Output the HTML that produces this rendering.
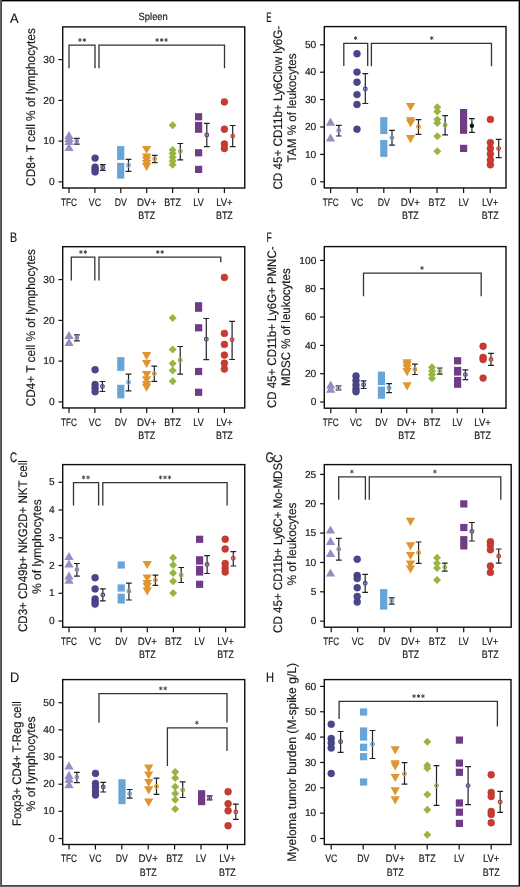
<!DOCTYPE html>
<html><head><meta charset="utf-8"><title>Figure</title>
<style>
html,body{margin:0;padding:0;background:#fff;}
body{width:520px;height:887px;overflow:hidden;}
svg{display:block;will-change:transform;}
text{font-family:"Liberation Sans",sans-serif;text-rendering:geometricPrecision;stroke:#1a1a1a;stroke-width:0.18px;}
</style></head>
<body>
<svg width="520" height="887" viewBox="0 0 520 887" font-family="Liberation Sans, sans-serif">
<rect x="0" y="0" width="520" height="887" fill="#ffffff"/>
<path d="M58.5 59.6H62.7" stroke="#111" stroke-width="1.2"/>
<text x="54.7" y="62.75" font-size="10.2" text-anchor="end" fill="#1a1a1a" >30</text>
<path d="M58.5 100.4H62.7" stroke="#111" stroke-width="1.2"/>
<text x="54.7" y="103.55" font-size="10.2" text-anchor="end" fill="#1a1a1a" >20</text>
<path d="M58.5 141.1H62.7" stroke="#111" stroke-width="1.2"/>
<text x="54.7" y="144.25" font-size="10.2" text-anchor="end" fill="#1a1a1a" >10</text>
<path d="M58.5 181.9H62.7" stroke="#111" stroke-width="1.2"/>
<text x="54.7" y="185.05" font-size="10.2" text-anchor="end" fill="#1a1a1a" >0</text>
<path d="M69 188V193" stroke="#111" stroke-width="1.2"/>
<text x="69" y="205.6" font-size="10.8" text-anchor="middle" fill="#1a1a1a" textLength="15.9" lengthAdjust="spacingAndGlyphs">TFC</text>
<path d="M94.9 188V193" stroke="#111" stroke-width="1.2"/>
<text x="94.9" y="205.6" font-size="10.8" text-anchor="middle" fill="#1a1a1a" textLength="12.1" lengthAdjust="spacingAndGlyphs">VC</text>
<path d="M120.8 188V193" stroke="#111" stroke-width="1.2"/>
<text x="120.8" y="205.6" font-size="10.8" text-anchor="middle" fill="#1a1a1a" textLength="12.1" lengthAdjust="spacingAndGlyphs">DV</text>
<path d="M146.7 188V193" stroke="#111" stroke-width="1.2"/>
<text x="146.7" y="205.6" font-size="10.8" text-anchor="middle" fill="#1a1a1a" textLength="19.3" lengthAdjust="spacingAndGlyphs">DV+</text>
<text x="146.7" y="219" font-size="10.8" text-anchor="middle" fill="#1a1a1a" textLength="16.8" lengthAdjust="spacingAndGlyphs">BTZ</text>
<path d="M172.6 188V193" stroke="#111" stroke-width="1.2"/>
<text x="172.6" y="205.6" font-size="10.8" text-anchor="middle" fill="#1a1a1a" textLength="16.8" lengthAdjust="spacingAndGlyphs">BTZ</text>
<path d="M198.5 188V193" stroke="#111" stroke-width="1.2"/>
<text x="198.5" y="205.6" font-size="10.8" text-anchor="middle" fill="#1a1a1a" textLength="10.3" lengthAdjust="spacingAndGlyphs">LV</text>
<path d="M224.4 188V193" stroke="#111" stroke-width="1.2"/>
<text x="224.4" y="205.6" font-size="10.8" text-anchor="middle" fill="#1a1a1a" textLength="16.5" lengthAdjust="spacingAndGlyphs">LV+</text>
<text x="224.4" y="219" font-size="10.8" text-anchor="middle" fill="#1a1a1a" textLength="16.8" lengthAdjust="spacingAndGlyphs">BTZ</text>
<path d="M69 68.2V45.2H95V68.2" stroke="#333" stroke-width="1.3" fill="none"/>
<path d="M79.98 38.5L79.98 41.5M78.68 39.25L81.27 40.75M78.68 40.75L81.27 39.25" stroke="#3d3d3d" stroke-width="0.9" stroke-linecap="round"/>
<path d="M84.42 38.5L84.42 41.5M83.13 39.25L85.72 40.75M83.13 40.75L85.72 39.25" stroke="#3d3d3d" stroke-width="0.9" stroke-linecap="round"/>
<path d="M99 68.2V45.2H224.5V68.2" stroke="#333" stroke-width="1.3" fill="none"/>
<path d="M157.15 38.5L157.15 41.5M155.85 39.25L158.45 40.75M155.85 40.75L158.45 39.25" stroke="#3d3d3d" stroke-width="0.9" stroke-linecap="round"/>
<path d="M161.6 38.5L161.6 41.5M160.3 39.25L162.9 40.75M160.3 40.75L162.9 39.25" stroke="#3d3d3d" stroke-width="0.9" stroke-linecap="round"/>
<path d="M166.05 38.5L166.05 41.5M164.75 39.25L167.35 40.75M164.75 40.75L167.35 39.25" stroke="#3d3d3d" stroke-width="0.9" stroke-linecap="round"/>
<path d="M69 143L73.65 151.1L64.35 151.1Z" fill="#968dc2"/>
<path d="M69 136.8L73.65 144.9L64.35 144.9Z" fill="#968dc2"/>
<path d="M69 133.9L73.65 142L64.35 142Z" fill="#968dc2"/>
<path d="M69 131L73.65 139.1L64.35 139.1Z" fill="#968dc2"/>
<circle cx="95.1" cy="158.1" r="3.45" fill="#4a468a" stroke="#3b3878" stroke-width="0.5"/>
<circle cx="95.1" cy="167.1" r="3.45" fill="#4a468a" stroke="#3b3878" stroke-width="0.5"/>
<circle cx="95.1" cy="169.5" r="3.45" fill="#4a468a" stroke="#3b3878" stroke-width="0.5"/>
<circle cx="95.1" cy="171.9" r="3.45" fill="#4a468a" stroke="#3b3878" stroke-width="0.5"/>
<rect x="117.1" y="146.1" width="7.2" height="13.8" fill="#69a4d7"/>
<rect x="117.1" y="162.8" width="7.2" height="15.9" fill="#69a4d7"/>
<path d="M141.95 145.9L151.25 145.9L146.6 154Z" fill="#e0962f"/>
<path d="M141.95 153.4L151.25 153.4L146.6 161.5Z" fill="#e0962f"/>
<path d="M141.95 156.4L151.25 156.4L146.6 164.5Z" fill="#e0962f"/>
<path d="M141.95 159.9L151.25 159.9L146.6 168Z" fill="#e0962f"/>
<path d="M141.95 162.9L151.25 162.9L146.6 171Z" fill="#e0962f"/>
<path d="M172.6 121.2L176.6 125.2L172.6 129.2L168.6 125.2Z" fill="#98b540"/>
<path d="M172.6 145.9L176.6 149.9L172.6 153.9L168.6 149.9Z" fill="#98b540"/>
<path d="M172.6 149.6L176.6 153.6L172.6 157.6L168.6 153.6Z" fill="#98b540"/>
<path d="M172.6 153.3L176.6 157.3L172.6 161.3L168.6 157.3Z" fill="#98b540"/>
<path d="M172.6 157L176.6 161L172.6 165L168.6 161Z" fill="#98b540"/>
<path d="M172.6 160.8L176.6 164.8L172.6 168.8L168.6 164.8Z" fill="#98b540"/>
<rect x="195" y="113.2" width="7.2" height="7.2" fill="#6f3c85"/>
<rect x="195" y="121.9" width="7.2" height="10.9" fill="#6f3c85"/>
<rect x="195" y="149.2" width="7.2" height="7.2" fill="#6f3c85"/>
<rect x="195" y="165.8" width="7.2" height="7.2" fill="#6f3c85"/>
<circle cx="224.4" cy="101.9" r="3.45" fill="#c73b30" stroke="#b53227" stroke-width="0.5"/>
<circle cx="224.4" cy="129.2" r="3.45" fill="#c73b30" stroke="#b53227" stroke-width="0.5"/>
<circle cx="224.4" cy="144" r="3.45" fill="#c73b30" stroke="#b53227" stroke-width="0.5"/>
<circle cx="224.4" cy="148.5" r="3.45" fill="#c73b30" stroke="#b53227" stroke-width="0.5"/>
<path d="M76.8 138.4V144.1M73.9 138.4H79.7M73.9 144.1H79.7" stroke="#222" stroke-width="1.2" fill="none"/>
<circle cx="76.8" cy="141.2" r="1.85" fill="#d8d8d8" stroke="#968dc2" stroke-width="1.2"/>
<path d="M76.8 139.9V142.5" stroke="#333" stroke-width="1"/>
<path d="M102.8 164.7V170.4M99.9 164.7H105.7M99.9 170.4H105.7" stroke="#222" stroke-width="1.2" fill="none"/>
<circle cx="102.8" cy="167.5" r="1.85" fill="#d8d8d8" stroke="#4a468a" stroke-width="1.2"/>
<path d="M102.8 166.2V168.8" stroke="#333" stroke-width="1"/>
<path d="M128.5 159.3V171.4M125.6 159.3H131.4M125.6 171.4H131.4" stroke="#222" stroke-width="1.2" fill="none"/>
<circle cx="128.5" cy="165.2" r="1.85" fill="#d8d8d8" stroke="#69a4d7" stroke-width="1.2"/>
<path d="M128.5 163.9V166.5" stroke="#333" stroke-width="1"/>
<path d="M154.7 155.4V162.7M151.8 155.4H157.6M151.8 162.7H157.6" stroke="#222" stroke-width="1.2" fill="none"/>
<circle cx="154.7" cy="158.9" r="1.85" fill="#d8d8d8" stroke="#e0962f" stroke-width="1.2"/>
<path d="M154.7 157.6V160.2" stroke="#333" stroke-width="1"/>
<path d="M180.3 143.5V159.9M177.4 143.5H183.2M177.4 159.9H183.2" stroke="#222" stroke-width="1.2" fill="none"/>
<circle cx="180.3" cy="151.3" r="1.85" fill="#d8d8d8" stroke="#98b540" stroke-width="1.2"/>
<path d="M180.3 150V152.6" stroke="#333" stroke-width="1"/>
<path d="M206.8 123.4V146.7M203.9 123.4H209.7M203.9 146.7H209.7" stroke="#222" stroke-width="1.2" fill="none"/>
<circle cx="206.8" cy="135" r="1.85" fill="#d8d8d8" stroke="#6f3c85" stroke-width="1.2"/>
<path d="M206.8 133.7V136.3" stroke="#333" stroke-width="1"/>
<path d="M232.7 125.5V146.7M229.8 125.5H235.6M229.8 146.7H235.6" stroke="#222" stroke-width="1.2" fill="none"/>
<circle cx="232.7" cy="136.1" r="1.85" fill="#d8d8d8" stroke="#c73b30" stroke-width="1.2"/>
<path d="M232.7 134.8V137.4" stroke="#333" stroke-width="1"/>
<rect x="62.7" y="26.9" width="182.05" height="161.1" fill="none" stroke="#0d0d0d" stroke-width="1.4"/>
<text transform="translate(34.8 107.05) rotate(-90)" x="0" y="0" font-size="12.6" text-anchor="middle" fill="#1a1a1a" textLength="157.7" lengthAdjust="spacingAndGlyphs">CD8+ T cell % of lymphocytes</text>
<text x="10" y="22.6" font-size="13.8" text-anchor="start" fill="#1a1a1a" textLength="8.6" lengthAdjust="spacingAndGlyphs">A</text>
<path d="M58.5 279.6H62.7" stroke="#111" stroke-width="1.2"/>
<text x="54.7" y="282.75" font-size="10.2" text-anchor="end" fill="#1a1a1a" >30</text>
<path d="M58.5 320.4H62.7" stroke="#111" stroke-width="1.2"/>
<text x="54.7" y="323.55" font-size="10.2" text-anchor="end" fill="#1a1a1a" >20</text>
<path d="M58.5 361.1H62.7" stroke="#111" stroke-width="1.2"/>
<text x="54.7" y="364.25" font-size="10.2" text-anchor="end" fill="#1a1a1a" >10</text>
<path d="M58.5 401.9H62.7" stroke="#111" stroke-width="1.2"/>
<text x="54.7" y="405.05" font-size="10.2" text-anchor="end" fill="#1a1a1a" >0</text>
<path d="M69 407.95V412.95" stroke="#111" stroke-width="1.2"/>
<text x="69" y="425.55" font-size="10.8" text-anchor="middle" fill="#1a1a1a" textLength="15.9" lengthAdjust="spacingAndGlyphs">TFC</text>
<path d="M94.9 407.95V412.95" stroke="#111" stroke-width="1.2"/>
<text x="94.9" y="425.55" font-size="10.8" text-anchor="middle" fill="#1a1a1a" textLength="12.1" lengthAdjust="spacingAndGlyphs">VC</text>
<path d="M120.8 407.95V412.95" stroke="#111" stroke-width="1.2"/>
<text x="120.8" y="425.55" font-size="10.8" text-anchor="middle" fill="#1a1a1a" textLength="12.1" lengthAdjust="spacingAndGlyphs">DV</text>
<path d="M146.7 407.95V412.95" stroke="#111" stroke-width="1.2"/>
<text x="146.7" y="425.55" font-size="10.8" text-anchor="middle" fill="#1a1a1a" textLength="19.3" lengthAdjust="spacingAndGlyphs">DV+</text>
<text x="146.7" y="438.95" font-size="10.8" text-anchor="middle" fill="#1a1a1a" textLength="16.8" lengthAdjust="spacingAndGlyphs">BTZ</text>
<path d="M172.6 407.95V412.95" stroke="#111" stroke-width="1.2"/>
<text x="172.6" y="425.55" font-size="10.8" text-anchor="middle" fill="#1a1a1a" textLength="16.8" lengthAdjust="spacingAndGlyphs">BTZ</text>
<path d="M198.5 407.95V412.95" stroke="#111" stroke-width="1.2"/>
<text x="198.5" y="425.55" font-size="10.8" text-anchor="middle" fill="#1a1a1a" textLength="10.3" lengthAdjust="spacingAndGlyphs">LV</text>
<path d="M224.4 407.95V412.95" stroke="#111" stroke-width="1.2"/>
<text x="224.4" y="425.55" font-size="10.8" text-anchor="middle" fill="#1a1a1a" textLength="16.5" lengthAdjust="spacingAndGlyphs">LV+</text>
<text x="224.4" y="438.95" font-size="10.8" text-anchor="middle" fill="#1a1a1a" textLength="16.8" lengthAdjust="spacingAndGlyphs">BTZ</text>
<path d="M71.3 280.5V257.2H94.8V280.5" stroke="#333" stroke-width="1.3" fill="none"/>
<path d="M80.88 250.5L80.88 253.5M79.58 251.25L82.17 252.75M79.58 252.75L82.17 251.25" stroke="#3d3d3d" stroke-width="0.9" stroke-linecap="round"/>
<path d="M85.32 250.5L85.32 253.5M84.03 251.25L86.62 252.75M84.03 252.75L86.62 251.25" stroke="#3d3d3d" stroke-width="0.9" stroke-linecap="round"/>
<path d="M99 280.5V257.2H220.8V262.2" stroke="#333" stroke-width="1.3" fill="none"/>
<path d="M157.78 250.5L157.78 253.5M156.48 251.25L159.07 252.75M156.48 252.75L159.07 251.25" stroke="#3d3d3d" stroke-width="0.9" stroke-linecap="round"/>
<path d="M162.22 250.5L162.22 253.5M160.93 251.25L163.52 252.75M160.93 252.75L163.52 251.25" stroke="#3d3d3d" stroke-width="0.9" stroke-linecap="round"/>
<path d="M69 331L73.65 339.1L64.35 339.1Z" fill="#968dc2"/>
<path d="M69 338L73.65 346.1L64.35 346.1Z" fill="#968dc2"/>
<circle cx="95.1" cy="369.7" r="3.45" fill="#4a468a" stroke="#3b3878" stroke-width="0.5"/>
<circle cx="95.1" cy="384.5" r="3.45" fill="#4a468a" stroke="#3b3878" stroke-width="0.5"/>
<circle cx="95.1" cy="388" r="3.45" fill="#4a468a" stroke="#3b3878" stroke-width="0.5"/>
<circle cx="95.1" cy="391.7" r="3.45" fill="#4a468a" stroke="#3b3878" stroke-width="0.5"/>
<rect x="117.2" y="357.1" width="7.2" height="13.8" fill="#69a4d7"/>
<rect x="117.2" y="384.8" width="7.2" height="13.5" fill="#69a4d7"/>
<path d="M141.95 352.1L151.25 352.1L146.6 360.2Z" fill="#e0962f"/>
<path d="M141.95 360L151.25 360L146.6 368.1Z" fill="#e0962f"/>
<path d="M141.95 370.9L151.25 370.9L146.6 379Z" fill="#e0962f"/>
<path d="M141.95 376.3L151.25 376.3L146.6 384.4Z" fill="#e0962f"/>
<path d="M141.95 381.1L151.25 381.1L146.6 389.2Z" fill="#e0962f"/>
<path d="M141.95 383.7L151.25 383.7L146.6 391.8Z" fill="#e0962f"/>
<path d="M172.7 314.1L176.7 318.1L172.7 322.1L168.7 318.1Z" fill="#98b540"/>
<path d="M172.7 345.6L176.7 349.6L172.7 353.6L168.7 349.6Z" fill="#98b540"/>
<path d="M172.7 359.4L176.7 363.4L172.7 367.4L168.7 363.4Z" fill="#98b540"/>
<path d="M172.7 366.4L176.7 370.4L172.7 374.4L168.7 370.4Z" fill="#98b540"/>
<path d="M172.7 377.3L176.7 381.3L172.7 385.3L168.7 381.3Z" fill="#98b540"/>
<rect x="195" y="302.2" width="7.2" height="9.6" fill="#6f3c85"/>
<rect x="195" y="324.2" width="7.2" height="7.2" fill="#6f3c85"/>
<rect x="195" y="367.9" width="7.2" height="7.2" fill="#6f3c85"/>
<rect x="195" y="388.7" width="7.2" height="7.2" fill="#6f3c85"/>
<circle cx="224.4" cy="277.4" r="3.45" fill="#c73b30" stroke="#b53227" stroke-width="0.5"/>
<circle cx="224.4" cy="333.4" r="3.45" fill="#c73b30" stroke="#b53227" stroke-width="0.5"/>
<circle cx="224.4" cy="344.4" r="3.45" fill="#c73b30" stroke="#b53227" stroke-width="0.5"/>
<circle cx="224.4" cy="355.1" r="3.45" fill="#c73b30" stroke="#b53227" stroke-width="0.5"/>
<circle cx="224.4" cy="363.2" r="3.45" fill="#c73b30" stroke="#b53227" stroke-width="0.5"/>
<circle cx="224.4" cy="369" r="3.45" fill="#c73b30" stroke="#b53227" stroke-width="0.5"/>
<path d="M76.9 334.9V340.8M74 334.9H79.8M74 340.8H79.8" stroke="#222" stroke-width="1.2" fill="none"/>
<circle cx="76.9" cy="337.7" r="1.85" fill="#d8d8d8" stroke="#968dc2" stroke-width="1.2"/>
<path d="M76.9 336.4V339" stroke="#333" stroke-width="1"/>
<path d="M102.4 381.5V391.5M99.5 381.5H105.3M99.5 391.5H105.3" stroke="#222" stroke-width="1.2" fill="none"/>
<circle cx="102.4" cy="386.5" r="1.85" fill="#d8d8d8" stroke="#4a468a" stroke-width="1.2"/>
<path d="M102.4 385.2V387.8" stroke="#333" stroke-width="1"/>
<path d="M128.5 374.2V390.8M125.6 374.2H131.4M125.6 390.8H131.4" stroke="#222" stroke-width="1.2" fill="none"/>
<circle cx="128.5" cy="382.3" r="1.85" fill="#d8d8d8" stroke="#69a4d7" stroke-width="1.2"/>
<path d="M128.5 381V383.6" stroke="#333" stroke-width="1"/>
<path d="M154.3 366.1V381.3M151.4 366.1H157.2M151.4 381.3H157.2" stroke="#222" stroke-width="1.2" fill="none"/>
<circle cx="154.3" cy="373.6" r="1.85" fill="#d8d8d8" stroke="#e0962f" stroke-width="1.2"/>
<path d="M154.3 372.3V374.9" stroke="#333" stroke-width="1"/>
<path d="M180.2 346.5V374.2M177.3 346.5H183.1M177.3 374.2H183.1" stroke="#222" stroke-width="1.2" fill="none"/>
<circle cx="180.2" cy="360.3" r="1.85" fill="#d8d8d8" stroke="#98b540" stroke-width="1.2"/>
<path d="M180.2 359V361.6" stroke="#333" stroke-width="1"/>
<path d="M206.3 318.5V359.7M203.4 318.5H209.2M203.4 359.7H209.2" stroke="#222" stroke-width="1.2" fill="none"/>
<circle cx="206.3" cy="339.2" r="1.85" fill="#d8d8d8" stroke="#6f3c85" stroke-width="1.2"/>
<path d="M206.3 337.9V340.5" stroke="#333" stroke-width="1"/>
<path d="M232.1 321.3V359.5M229.2 321.3H235M229.2 359.5H235" stroke="#222" stroke-width="1.2" fill="none"/>
<circle cx="232.1" cy="339.8" r="1.85" fill="#d8d8d8" stroke="#c73b30" stroke-width="1.2"/>
<path d="M232.1 338.5V341.1" stroke="#333" stroke-width="1"/>
<rect x="62.7" y="246.7" width="182.05" height="161.25" fill="none" stroke="#0d0d0d" stroke-width="1.4"/>
<text transform="translate(34.7 327.7) rotate(-90)" x="0" y="0" font-size="12.6" text-anchor="middle" fill="#1a1a1a" textLength="157.2" lengthAdjust="spacingAndGlyphs">CD4+ T cell % of lymphocytes</text>
<text x="10.1" y="242.4" font-size="13.8" text-anchor="start" fill="#1a1a1a" textLength="7.1" lengthAdjust="spacingAndGlyphs">B</text>
<path d="M58.5 482.3H62.7" stroke="#111" stroke-width="1.2"/>
<text x="54.7" y="485.45" font-size="10.2" text-anchor="end" fill="#1a1a1a" >5</text>
<path d="M58.5 510H62.7" stroke="#111" stroke-width="1.2"/>
<text x="54.7" y="513.15" font-size="10.2" text-anchor="end" fill="#1a1a1a" >4</text>
<path d="M58.5 537.8H62.7" stroke="#111" stroke-width="1.2"/>
<text x="54.7" y="540.95" font-size="10.2" text-anchor="end" fill="#1a1a1a" >3</text>
<path d="M58.5 565.5H62.7" stroke="#111" stroke-width="1.2"/>
<text x="54.7" y="568.65" font-size="10.2" text-anchor="end" fill="#1a1a1a" >2</text>
<path d="M58.5 593.3H62.7" stroke="#111" stroke-width="1.2"/>
<text x="54.7" y="596.45" font-size="10.2" text-anchor="end" fill="#1a1a1a" >1</text>
<path d="M58.5 621H62.7" stroke="#111" stroke-width="1.2"/>
<text x="54.7" y="624.15" font-size="10.2" text-anchor="end" fill="#1a1a1a" >0</text>
<path d="M69 627.2V632.2" stroke="#111" stroke-width="1.2"/>
<text x="69" y="644.8" font-size="10.8" text-anchor="middle" fill="#1a1a1a" textLength="15.9" lengthAdjust="spacingAndGlyphs">TFC</text>
<path d="M95.1 627.2V632.2" stroke="#111" stroke-width="1.2"/>
<text x="95.1" y="644.8" font-size="10.8" text-anchor="middle" fill="#1a1a1a" textLength="12.1" lengthAdjust="spacingAndGlyphs">VC</text>
<path d="M121.2 627.2V632.2" stroke="#111" stroke-width="1.2"/>
<text x="121.2" y="644.8" font-size="10.8" text-anchor="middle" fill="#1a1a1a" textLength="12.1" lengthAdjust="spacingAndGlyphs">DV</text>
<path d="M147.3 627.2V632.2" stroke="#111" stroke-width="1.2"/>
<text x="147.3" y="644.8" font-size="10.8" text-anchor="middle" fill="#1a1a1a" textLength="19.3" lengthAdjust="spacingAndGlyphs">DV+</text>
<text x="147.3" y="658.2" font-size="10.8" text-anchor="middle" fill="#1a1a1a" textLength="16.8" lengthAdjust="spacingAndGlyphs">BTZ</text>
<path d="M173.4 627.2V632.2" stroke="#111" stroke-width="1.2"/>
<text x="173.4" y="644.8" font-size="10.8" text-anchor="middle" fill="#1a1a1a" textLength="16.8" lengthAdjust="spacingAndGlyphs">BTZ</text>
<path d="M199.5 627.2V632.2" stroke="#111" stroke-width="1.2"/>
<text x="199.5" y="644.8" font-size="10.8" text-anchor="middle" fill="#1a1a1a" textLength="10.3" lengthAdjust="spacingAndGlyphs">LV</text>
<path d="M225.6 627.2V632.2" stroke="#111" stroke-width="1.2"/>
<text x="225.6" y="644.8" font-size="10.8" text-anchor="middle" fill="#1a1a1a" textLength="16.5" lengthAdjust="spacingAndGlyphs">LV+</text>
<text x="225.6" y="658.2" font-size="10.8" text-anchor="middle" fill="#1a1a1a" textLength="16.8" lengthAdjust="spacingAndGlyphs">BTZ</text>
<path d="M73.5 505.5V482.6H98.6V505.5" stroke="#333" stroke-width="1.3" fill="none"/>
<path d="M83.58 475.9L83.58 478.9M82.28 476.65L84.87 478.15M82.28 478.15L84.87 476.65" stroke="#3d3d3d" stroke-width="0.9" stroke-linecap="round"/>
<path d="M88.02 475.9L88.02 478.9M86.73 476.65L89.32 478.15M86.73 478.15L89.32 476.65" stroke="#3d3d3d" stroke-width="0.9" stroke-linecap="round"/>
<path d="M102.8 505.5V482.6H227.1V505.5" stroke="#333" stroke-width="1.3" fill="none"/>
<path d="M160.55 475.9L160.55 478.9M159.25 476.65L161.85 478.15M159.25 478.15L161.85 476.65" stroke="#3d3d3d" stroke-width="0.9" stroke-linecap="round"/>
<path d="M165 475.9L165 478.9M163.7 476.65L166.3 478.15M163.7 478.15L166.3 476.65" stroke="#3d3d3d" stroke-width="0.9" stroke-linecap="round"/>
<path d="M169.45 475.9L169.45 478.9M168.15 476.65L170.75 478.15M168.15 478.15L170.75 476.65" stroke="#3d3d3d" stroke-width="0.9" stroke-linecap="round"/>
<path d="M69 552L73.65 560.1L64.35 560.1Z" fill="#968dc2"/>
<path d="M69 559.4L73.65 567.5L64.35 567.5Z" fill="#968dc2"/>
<path d="M69 571.5L73.65 579.6L64.35 579.6Z" fill="#968dc2"/>
<path d="M69 575.7L73.65 583.8L64.35 583.8Z" fill="#968dc2"/>
<circle cx="95.1" cy="577.7" r="3.45" fill="#4a468a" stroke="#3b3878" stroke-width="0.5"/>
<circle cx="95.1" cy="588.9" r="3.45" fill="#4a468a" stroke="#3b3878" stroke-width="0.5"/>
<circle cx="95.1" cy="599" r="3.45" fill="#4a468a" stroke="#3b3878" stroke-width="0.5"/>
<circle cx="95.1" cy="602" r="3.45" fill="#4a468a" stroke="#3b3878" stroke-width="0.5"/>
<circle cx="95.1" cy="604.1" r="3.45" fill="#4a468a" stroke="#3b3878" stroke-width="0.5"/>
<rect x="117.6" y="561.4" width="7.2" height="7.2" fill="#69a4d7"/>
<rect x="117.6" y="584.4" width="7.2" height="7.2" fill="#69a4d7"/>
<rect x="117.6" y="593.7" width="7.2" height="9.8" fill="#69a4d7"/>
<path d="M142.55 560.9L151.85 560.9L147.2 569Z" fill="#e0962f"/>
<path d="M142.55 574.4L151.85 574.4L147.2 582.5Z" fill="#e0962f"/>
<path d="M142.55 580L151.85 580L147.2 588.1Z" fill="#e0962f"/>
<path d="M142.55 583L151.85 583L147.2 591.1Z" fill="#e0962f"/>
<path d="M142.55 587.3L151.85 587.3L147.2 595.4Z" fill="#e0962f"/>
<path d="M173.1 553.7L177.1 557.7L173.1 561.7L169.1 557.7Z" fill="#98b540"/>
<path d="M173.1 561L177.1 565L173.1 569L169.1 565Z" fill="#98b540"/>
<path d="M173.1 568.9L177.1 572.9L173.1 576.9L169.1 572.9Z" fill="#98b540"/>
<path d="M173.1 577.3L177.1 581.3L173.1 585.3L169.1 581.3Z" fill="#98b540"/>
<path d="M173.1 588.9L177.1 592.9L173.1 596.9L169.1 592.9Z" fill="#98b540"/>
<rect x="196" y="535.7" width="7.2" height="7.2" fill="#6f3c85"/>
<rect x="196" y="556.2" width="7.2" height="8.4" fill="#6f3c85"/>
<rect x="196" y="565.9" width="7.2" height="9.7" fill="#6f3c85"/>
<rect x="196" y="580.7" width="7.2" height="7.2" fill="#6f3c85"/>
<circle cx="225.2" cy="539.2" r="3.45" fill="#c73b30" stroke="#b53227" stroke-width="0.5"/>
<circle cx="225.2" cy="549" r="3.45" fill="#c73b30" stroke="#b53227" stroke-width="0.5"/>
<circle cx="225.2" cy="563.5" r="3.45" fill="#c73b30" stroke="#b53227" stroke-width="0.5"/>
<circle cx="225.2" cy="568" r="3.45" fill="#c73b30" stroke="#b53227" stroke-width="0.5"/>
<circle cx="225.2" cy="572" r="3.45" fill="#c73b30" stroke="#b53227" stroke-width="0.5"/>
<path d="M76.9 563.5V576.2M74 563.5H79.8M74 576.2H79.8" stroke="#222" stroke-width="1.2" fill="none"/>
<circle cx="76.9" cy="569.7" r="1.85" fill="#d8d8d8" stroke="#968dc2" stroke-width="1.2"/>
<path d="M76.9 568.4V571" stroke="#333" stroke-width="1"/>
<path d="M102.8 588.9V600.8M99.9 588.9H105.7M99.9 600.8H105.7" stroke="#222" stroke-width="1.2" fill="none"/>
<circle cx="102.8" cy="594.9" r="1.85" fill="#d8d8d8" stroke="#4a468a" stroke-width="1.2"/>
<path d="M102.8 593.6V596.2" stroke="#333" stroke-width="1"/>
<path d="M128.9 583.1V600M126 583.1H131.8M126 600H131.8" stroke="#222" stroke-width="1.2" fill="none"/>
<circle cx="128.9" cy="591.2" r="1.85" fill="#d8d8d8" stroke="#69a4d7" stroke-width="1.2"/>
<path d="M128.9 589.9V592.5" stroke="#333" stroke-width="1"/>
<path d="M155.4 575.2V585.4M152.5 575.2H158.3M152.5 585.4H158.3" stroke="#222" stroke-width="1.2" fill="none"/>
<circle cx="155.4" cy="580.2" r="1.85" fill="#d8d8d8" stroke="#e0962f" stroke-width="1.2"/>
<path d="M155.4 578.9V581.5" stroke="#333" stroke-width="1"/>
<path d="M181.2 567.5V582.5M178.3 567.5H184.1M178.3 582.5H184.1" stroke="#222" stroke-width="1.2" fill="none"/>
<circle cx="181.2" cy="575" r="1.85" fill="#d8d8d8" stroke="#98b540" stroke-width="1.2"/>
<path d="M181.2 573.7V576.3" stroke="#333" stroke-width="1"/>
<path d="M207.1 555.6V573.5M204.2 555.6H210M204.2 573.5H210" stroke="#222" stroke-width="1.2" fill="none"/>
<circle cx="207.1" cy="564.4" r="1.85" fill="#d8d8d8" stroke="#6f3c85" stroke-width="1.2"/>
<path d="M207.1 563.1V565.7" stroke="#333" stroke-width="1"/>
<path d="M233.3 551.7V566M230.4 551.7H236.2M230.4 566H236.2" stroke="#222" stroke-width="1.2" fill="none"/>
<circle cx="233.3" cy="558.3" r="1.85" fill="#d8d8d8" stroke="#c73b30" stroke-width="1.2"/>
<path d="M233.3 557V559.6" stroke="#333" stroke-width="1"/>
<rect x="62.7" y="464.6" width="182.05" height="162.6" fill="none" stroke="#0d0d0d" stroke-width="1.4"/>
<text transform="translate(26.7 546.1) rotate(-90)" x="0" y="0" font-size="12.4" text-anchor="middle" fill="#1a1a1a" textLength="171.8" lengthAdjust="spacingAndGlyphs">CD3+ CD49b+ NKG2D+ NKT cell</text>
<text transform="translate(40.9 546.65) rotate(-90)" x="0" y="0" font-size="12.4" text-anchor="middle" fill="#1a1a1a" textLength="94.7" lengthAdjust="spacingAndGlyphs">% of lymphocytes</text>
<text x="10" y="461.9" font-size="13.8" text-anchor="start" fill="#1a1a1a" textLength="7.1" lengthAdjust="spacingAndGlyphs">C</text>
<path d="M58.5 702.7H62.7" stroke="#111" stroke-width="1.2"/>
<text x="54.7" y="705.85" font-size="10.2" text-anchor="end" fill="#1a1a1a" >50</text>
<path d="M58.5 729.9H62.7" stroke="#111" stroke-width="1.2"/>
<text x="54.7" y="733.05" font-size="10.2" text-anchor="end" fill="#1a1a1a" >40</text>
<path d="M58.5 757H62.7" stroke="#111" stroke-width="1.2"/>
<text x="54.7" y="760.15" font-size="10.2" text-anchor="end" fill="#1a1a1a" >30</text>
<path d="M58.5 784.2H62.7" stroke="#111" stroke-width="1.2"/>
<text x="54.7" y="787.35" font-size="10.2" text-anchor="end" fill="#1a1a1a" >20</text>
<path d="M58.5 811.3H62.7" stroke="#111" stroke-width="1.2"/>
<text x="54.7" y="814.45" font-size="10.2" text-anchor="end" fill="#1a1a1a" >10</text>
<path d="M58.5 838.5H62.7" stroke="#111" stroke-width="1.2"/>
<text x="54.7" y="841.65" font-size="10.2" text-anchor="end" fill="#1a1a1a" >0</text>
<path d="M69 844.5V849.5" stroke="#111" stroke-width="1.2"/>
<text x="69" y="862.1" font-size="10.8" text-anchor="middle" fill="#1a1a1a" textLength="15.9" lengthAdjust="spacingAndGlyphs">TFC</text>
<path d="M95.4 844.5V849.5" stroke="#111" stroke-width="1.2"/>
<text x="95.4" y="862.1" font-size="10.8" text-anchor="middle" fill="#1a1a1a" textLength="12.1" lengthAdjust="spacingAndGlyphs">VC</text>
<path d="M121.8 844.5V849.5" stroke="#111" stroke-width="1.2"/>
<text x="121.8" y="862.1" font-size="10.8" text-anchor="middle" fill="#1a1a1a" textLength="12.1" lengthAdjust="spacingAndGlyphs">DV</text>
<path d="M148.2 844.5V849.5" stroke="#111" stroke-width="1.2"/>
<text x="148.2" y="862.1" font-size="10.8" text-anchor="middle" fill="#1a1a1a" textLength="19.3" lengthAdjust="spacingAndGlyphs">DV+</text>
<text x="148.2" y="875.5" font-size="10.8" text-anchor="middle" fill="#1a1a1a" textLength="16.8" lengthAdjust="spacingAndGlyphs">BTZ</text>
<path d="M174.6 844.5V849.5" stroke="#111" stroke-width="1.2"/>
<text x="174.6" y="862.1" font-size="10.8" text-anchor="middle" fill="#1a1a1a" textLength="16.8" lengthAdjust="spacingAndGlyphs">BTZ</text>
<path d="M201 844.5V849.5" stroke="#111" stroke-width="1.2"/>
<text x="201" y="862.1" font-size="10.8" text-anchor="middle" fill="#1a1a1a" textLength="10.3" lengthAdjust="spacingAndGlyphs">LV</text>
<path d="M227.4 844.5V849.5" stroke="#111" stroke-width="1.2"/>
<text x="227.4" y="862.1" font-size="10.8" text-anchor="middle" fill="#1a1a1a" textLength="16.5" lengthAdjust="spacingAndGlyphs">LV+</text>
<text x="227.4" y="875.5" font-size="10.8" text-anchor="middle" fill="#1a1a1a" textLength="16.8" lengthAdjust="spacingAndGlyphs">BTZ</text>
<path d="M99 722.8V693.6H227V722.4" stroke="#333" stroke-width="1.3" fill="none"/>
<path d="M160.78 686.9L160.78 689.9M159.48 687.65L162.07 689.15M159.48 689.15L162.07 687.65" stroke="#3d3d3d" stroke-width="0.9" stroke-linecap="round"/>
<path d="M165.22 686.9L165.22 689.9M163.93 687.65L166.52 689.15M163.93 689.15L166.52 687.65" stroke="#3d3d3d" stroke-width="0.9" stroke-linecap="round"/>
<path d="M167.4 766V727.9H227V751" stroke="#333" stroke-width="1.3" fill="none"/>
<path d="M196.9 721.2L196.9 724.2M195.6 721.95L198.2 723.45M195.6 723.45L198.2 721.95" stroke="#3d3d3d" stroke-width="0.9" stroke-linecap="round"/>
<path d="M69 761.5L73.65 769.6L64.35 769.6Z" fill="#968dc2"/>
<path d="M69 770.8L73.65 778.9L64.35 778.9Z" fill="#968dc2"/>
<path d="M69 774.6L73.65 782.7L64.35 782.7Z" fill="#968dc2"/>
<path d="M69 780.2L73.65 788.3L64.35 788.3Z" fill="#968dc2"/>
<circle cx="95.5" cy="773.4" r="3.45" fill="#4a468a" stroke="#3b3878" stroke-width="0.5"/>
<circle cx="95.5" cy="783.5" r="3.45" fill="#4a468a" stroke="#3b3878" stroke-width="0.5"/>
<circle cx="95.5" cy="787" r="3.45" fill="#4a468a" stroke="#3b3878" stroke-width="0.5"/>
<circle cx="95.5" cy="791" r="3.45" fill="#4a468a" stroke="#3b3878" stroke-width="0.5"/>
<circle cx="95.5" cy="795" r="3.45" fill="#4a468a" stroke="#3b3878" stroke-width="0.5"/>
<rect x="118.4" y="779.2" width="7.2" height="25" fill="#69a4d7"/>
<path d="M144.05 764.6L153.35 764.6L148.7 772.7Z" fill="#e0962f"/>
<path d="M144.05 771.5L153.35 771.5L148.7 779.6Z" fill="#e0962f"/>
<path d="M144.05 779L153.35 779L148.7 787.1Z" fill="#e0962f"/>
<path d="M144.05 786.3L153.35 786.3L148.7 794.4Z" fill="#e0962f"/>
<path d="M144.05 798.6L153.35 798.6L148.7 806.7Z" fill="#e0962f"/>
<path d="M175.2 768.1L179.2 772.1L175.2 776.1L171.2 772.1Z" fill="#98b540"/>
<path d="M175.2 773.9L179.2 777.9L175.2 781.9L171.2 777.9Z" fill="#98b540"/>
<path d="M175.2 782.8L179.2 786.8L175.2 790.8L171.2 786.8Z" fill="#98b540"/>
<path d="M175.2 789.4L179.2 793.4L175.2 797.4L171.2 793.4Z" fill="#98b540"/>
<path d="M175.2 795.8L179.2 799.8L175.2 803.8L171.2 799.8Z" fill="#98b540"/>
<path d="M175.2 805L179.2 809L175.2 813L171.2 809Z" fill="#98b540"/>
<rect x="198" y="790.2" width="7.2" height="15" fill="#6f3c85"/>
<circle cx="228.1" cy="791.7" r="3.45" fill="#c73b30" stroke="#b53227" stroke-width="0.5"/>
<circle cx="228.1" cy="803.8" r="3.45" fill="#c73b30" stroke="#b53227" stroke-width="0.5"/>
<circle cx="228.1" cy="810.8" r="3.45" fill="#c73b30" stroke="#b53227" stroke-width="0.5"/>
<circle cx="228.1" cy="825.7" r="3.45" fill="#c73b30" stroke="#b53227" stroke-width="0.5"/>
<path d="M76.9 772.3V782.6M74 772.3H79.8M74 782.6H79.8" stroke="#222" stroke-width="1.2" fill="none"/>
<circle cx="76.9" cy="777.2" r="1.85" fill="#d8d8d8" stroke="#968dc2" stroke-width="1.2"/>
<path d="M76.9 775.9V778.5" stroke="#333" stroke-width="1"/>
<path d="M103.2 782.3V792M100.3 782.3H106.1M100.3 792H106.1" stroke="#222" stroke-width="1.2" fill="none"/>
<circle cx="103.2" cy="786.9" r="1.85" fill="#d8d8d8" stroke="#4a468a" stroke-width="1.2"/>
<path d="M103.2 785.6V788.2" stroke="#333" stroke-width="1"/>
<path d="M129.7 789.5V798.2M126.8 789.5H132.6M126.8 798.2H132.6" stroke="#222" stroke-width="1.2" fill="none"/>
<circle cx="129.7" cy="793.8" r="1.85" fill="#d8d8d8" stroke="#69a4d7" stroke-width="1.2"/>
<path d="M129.7 792.5V795.1" stroke="#333" stroke-width="1"/>
<path d="M156.5 778.2V794.4M153.6 778.2H159.4M153.6 794.4H159.4" stroke="#222" stroke-width="1.2" fill="none"/>
<circle cx="156.5" cy="786.5" r="1.85" fill="#d8d8d8" stroke="#e0962f" stroke-width="1.2"/>
<path d="M156.5 785.2V787.8" stroke="#333" stroke-width="1"/>
<path d="M182.7 781.9V797.5M179.8 781.9H185.6M179.8 797.5H185.6" stroke="#222" stroke-width="1.2" fill="none"/>
<circle cx="182.7" cy="790" r="1.85" fill="#d8d8d8" stroke="#98b540" stroke-width="1.2"/>
<path d="M182.7 788.7V791.3" stroke="#333" stroke-width="1"/>
<path d="M209.6 795.8V799.8M206.7 795.8H212.5M206.7 799.8H212.5" stroke="#222" stroke-width="1.2" fill="none"/>
<circle cx="209.6" cy="797.8" r="1.85" fill="#d8d8d8" stroke="#6f3c85" stroke-width="1.2"/>
<path d="M209.6 796.5V799.1" stroke="#333" stroke-width="1"/>
<path d="M235.8 804.2V819.4M232.9 804.2H238.7M232.9 819.4H238.7" stroke="#222" stroke-width="1.2" fill="none"/>
<circle cx="235.8" cy="811.9" r="1.85" fill="#d8d8d8" stroke="#c73b30" stroke-width="1.2"/>
<path d="M235.8 810.6V813.2" stroke="#333" stroke-width="1"/>
<rect x="62.7" y="679.6" width="182.05" height="164.9" fill="none" stroke="#0d0d0d" stroke-width="1.4"/>
<text transform="translate(20.5 763.65) rotate(-90)" x="0" y="0" font-size="12.4" text-anchor="middle" fill="#1a1a1a" textLength="124.7" lengthAdjust="spacingAndGlyphs">Foxp3+ CD4+ T-Reg cell</text>
<text transform="translate(34.7 764) rotate(-90)" x="0" y="0" font-size="12.4" text-anchor="middle" fill="#1a1a1a" textLength="95" lengthAdjust="spacingAndGlyphs">% of lymphocytes</text>
<text x="10.1" y="681.6" font-size="13.8" text-anchor="start" fill="#1a1a1a" textLength="9.2" lengthAdjust="spacingAndGlyphs">D</text>
<path d="M320.1 44.8H324.3" stroke="#111" stroke-width="1.2"/>
<text x="316.3" y="47.95" font-size="10.2" text-anchor="end" fill="#1a1a1a" >50</text>
<path d="M320.1 72.2H324.3" stroke="#111" stroke-width="1.2"/>
<text x="316.3" y="75.35" font-size="10.2" text-anchor="end" fill="#1a1a1a" >40</text>
<path d="M320.1 99.6H324.3" stroke="#111" stroke-width="1.2"/>
<text x="316.3" y="102.75" font-size="10.2" text-anchor="end" fill="#1a1a1a" >30</text>
<path d="M320.1 127H324.3" stroke="#111" stroke-width="1.2"/>
<text x="316.3" y="130.15" font-size="10.2" text-anchor="end" fill="#1a1a1a" >20</text>
<path d="M320.1 154.4H324.3" stroke="#111" stroke-width="1.2"/>
<text x="316.3" y="157.55" font-size="10.2" text-anchor="end" fill="#1a1a1a" >10</text>
<path d="M320.1 181.8H324.3" stroke="#111" stroke-width="1.2"/>
<text x="316.3" y="184.95" font-size="10.2" text-anchor="end" fill="#1a1a1a" >0</text>
<path d="M330.6 187.95V192.95" stroke="#111" stroke-width="1.2"/>
<text x="330.6" y="205.55" font-size="10.8" text-anchor="middle" fill="#1a1a1a" textLength="15.9" lengthAdjust="spacingAndGlyphs">TFC</text>
<path d="M357.2 187.95V192.95" stroke="#111" stroke-width="1.2"/>
<text x="357.2" y="205.55" font-size="10.8" text-anchor="middle" fill="#1a1a1a" textLength="12.1" lengthAdjust="spacingAndGlyphs">VC</text>
<path d="M383.8 187.95V192.95" stroke="#111" stroke-width="1.2"/>
<text x="383.8" y="205.55" font-size="10.8" text-anchor="middle" fill="#1a1a1a" textLength="12.1" lengthAdjust="spacingAndGlyphs">DV</text>
<path d="M410.4 187.95V192.95" stroke="#111" stroke-width="1.2"/>
<text x="410.4" y="205.55" font-size="10.8" text-anchor="middle" fill="#1a1a1a" textLength="19.3" lengthAdjust="spacingAndGlyphs">DV+</text>
<text x="410.4" y="218.95" font-size="10.8" text-anchor="middle" fill="#1a1a1a" textLength="16.8" lengthAdjust="spacingAndGlyphs">BTZ</text>
<path d="M437 187.95V192.95" stroke="#111" stroke-width="1.2"/>
<text x="437" y="205.55" font-size="10.8" text-anchor="middle" fill="#1a1a1a" textLength="16.8" lengthAdjust="spacingAndGlyphs">BTZ</text>
<path d="M463.6 187.95V192.95" stroke="#111" stroke-width="1.2"/>
<text x="463.6" y="205.55" font-size="10.8" text-anchor="middle" fill="#1a1a1a" textLength="10.3" lengthAdjust="spacingAndGlyphs">LV</text>
<path d="M490.2 187.95V192.95" stroke="#111" stroke-width="1.2"/>
<text x="490.2" y="205.55" font-size="10.8" text-anchor="middle" fill="#1a1a1a" textLength="16.5" lengthAdjust="spacingAndGlyphs">LV+</text>
<text x="490.2" y="218.95" font-size="10.8" text-anchor="middle" fill="#1a1a1a" textLength="16.8" lengthAdjust="spacingAndGlyphs">BTZ</text>
<path d="M343.8 66.1V43.3H367.7V66.1" stroke="#333" stroke-width="1.3" fill="none"/>
<path d="M355.6 36.6L355.6 39.6M354.3 37.35L356.9 38.85M354.3 38.85L356.9 37.35" stroke="#3d3d3d" stroke-width="0.9" stroke-linecap="round"/>
<path d="M371.4 66.2V43.3H491.5V66.2" stroke="#333" stroke-width="1.3" fill="none"/>
<path d="M431.7 36.6L431.7 39.6M430.4 37.35L433 38.85M430.4 38.85L433 37.35" stroke="#3d3d3d" stroke-width="0.9" stroke-linecap="round"/>
<path d="M330.5 117.6L335.15 125.7L325.85 125.7Z" fill="#968dc2"/>
<path d="M330.5 133.5L335.15 141.6L325.85 141.6Z" fill="#968dc2"/>
<circle cx="357" cy="53.8" r="3.45" fill="#4a468a" stroke="#3b3878" stroke-width="0.5"/>
<circle cx="357" cy="72.1" r="3.45" fill="#4a468a" stroke="#3b3878" stroke-width="0.5"/>
<circle cx="357" cy="82.2" r="3.45" fill="#4a468a" stroke="#3b3878" stroke-width="0.5"/>
<circle cx="357" cy="94.6" r="3.45" fill="#4a468a" stroke="#3b3878" stroke-width="0.5"/>
<circle cx="357" cy="104.5" r="3.45" fill="#4a468a" stroke="#3b3878" stroke-width="0.5"/>
<circle cx="357" cy="129.3" r="3.45" fill="#4a468a" stroke="#3b3878" stroke-width="0.5"/>
<rect x="380.2" y="117.2" width="7.2" height="16.9" fill="#69a4d7"/>
<rect x="380.2" y="140" width="7.2" height="16.9" fill="#69a4d7"/>
<path d="M405.95 103L415.25 103L410.6 111.1Z" fill="#e0962f"/>
<path d="M405.95 117.3L415.25 117.3L410.6 125.4Z" fill="#e0962f"/>
<path d="M405.95 119.5L415.25 119.5L410.6 127.6Z" fill="#e0962f"/>
<path d="M405.95 135.1L415.25 135.1L410.6 143.2Z" fill="#e0962f"/>
<path d="M437.3 103.2L441.3 107.2L437.3 111.2L433.3 107.2Z" fill="#98b540"/>
<path d="M437.3 107.5L441.3 111.5L437.3 115.5L433.3 111.5Z" fill="#98b540"/>
<path d="M437.3 115.6L441.3 119.6L437.3 123.6L433.3 119.6Z" fill="#98b540"/>
<path d="M437.3 119L441.3 123L437.3 127L433.3 123Z" fill="#98b540"/>
<path d="M437.3 132.2L441.3 136.2L437.3 140.2L433.3 136.2Z" fill="#98b540"/>
<path d="M437.3 147.2L441.3 151.2L437.3 155.2L433.3 151.2Z" fill="#98b540"/>
<rect x="460" y="109" width="7.2" height="24.8" fill="#6f3c85"/>
<rect x="460" y="144.8" width="7.2" height="7.2" fill="#6f3c85"/>
<circle cx="490.4" cy="119.4" r="3.45" fill="#c73b30" stroke="#b53227" stroke-width="0.5"/>
<circle cx="490.4" cy="142.6" r="3.45" fill="#c73b30" stroke="#b53227" stroke-width="0.5"/>
<circle cx="490.4" cy="148.5" r="3.45" fill="#c73b30" stroke="#b53227" stroke-width="0.5"/>
<circle cx="490.4" cy="154" r="3.45" fill="#c73b30" stroke="#b53227" stroke-width="0.5"/>
<circle cx="490.4" cy="160" r="3.45" fill="#c73b30" stroke="#b53227" stroke-width="0.5"/>
<circle cx="490.4" cy="164.8" r="3.45" fill="#c73b30" stroke="#b53227" stroke-width="0.5"/>
<path d="M338.8 125.3V136M335.9 125.3H341.7M335.9 136H341.7" stroke="#222" stroke-width="1.2" fill="none"/>
<circle cx="338.8" cy="130.4" r="1.85" fill="#d8d8d8" stroke="#968dc2" stroke-width="1.2"/>
<path d="M338.8 129.1V131.7" stroke="#333" stroke-width="1"/>
<path d="M365.3 73.7V103.5M362.4 73.7H368.2M362.4 103.5H368.2" stroke="#222" stroke-width="1.2" fill="none"/>
<circle cx="365.3" cy="88.9" r="1.85" fill="#d8d8d8" stroke="#4a468a" stroke-width="1.2"/>
<path d="M365.3 87.6V90.2" stroke="#333" stroke-width="1"/>
<path d="M392 130.4V145.2M389.1 130.4H394.9M389.1 145.2H394.9" stroke="#222" stroke-width="1.2" fill="none"/>
<circle cx="392" cy="137.8" r="1.85" fill="#d8d8d8" stroke="#69a4d7" stroke-width="1.2"/>
<path d="M392 136.5V139.1" stroke="#333" stroke-width="1"/>
<path d="M418.5 119.6V134.4M415.6 119.6H421.4M415.6 134.4H421.4" stroke="#222" stroke-width="1.2" fill="none"/>
<circle cx="418.5" cy="126.7" r="1.85" fill="#d8d8d8" stroke="#e0962f" stroke-width="1.2"/>
<path d="M418.5 125.4V128" stroke="#333" stroke-width="1"/>
<path d="M445.1 115.6V134.8M442.2 115.6H448M442.2 134.8H448" stroke="#222" stroke-width="1.2" fill="none"/>
<circle cx="445.1" cy="125.3" r="1.85" fill="#d8d8d8" stroke="#98b540" stroke-width="1.2"/>
<path d="M445.1 124V126.6" stroke="#333" stroke-width="1"/>
<path d="M471.9 118.6V132.4M469 118.6H474.8M469 132.4H474.8" stroke="#222" stroke-width="1.2" fill="none"/>
<circle cx="471.9" cy="125.8" r="2.2" fill="#111"/>
<path d="M498.7 139.4V157.7M495.8 139.4H501.6M495.8 157.7H501.6" stroke="#222" stroke-width="1.2" fill="none"/>
<circle cx="498.7" cy="148.6" r="1.85" fill="#d8d8d8" stroke="#c73b30" stroke-width="1.2"/>
<path d="M498.7 147.3V149.9" stroke="#333" stroke-width="1"/>
<rect x="324.3" y="26.6" width="181.7" height="161.35" fill="none" stroke="#0d0d0d" stroke-width="1.4"/>
<text transform="translate(282 107.7) rotate(-90)" x="0" y="0" font-size="12.4" text-anchor="middle" fill="#1a1a1a" textLength="163.8" lengthAdjust="spacingAndGlyphs">CD 45+ CD11b+ Ly6Clow ly6G-</text>
<text transform="translate(296 107.85) rotate(-90)" x="0" y="0" font-size="12.4" text-anchor="middle" fill="#1a1a1a" textLength="109.1" lengthAdjust="spacingAndGlyphs">TAM % of leukocytes</text>
<text x="266.3" y="22.4" font-size="13.8" text-anchor="start" fill="#1a1a1a" textLength="5.3" lengthAdjust="spacingAndGlyphs">E</text>
<path d="M320.1 260.4H324.3" stroke="#111" stroke-width="1.2"/>
<text x="316.3" y="263.55" font-size="10.2" text-anchor="end" fill="#1a1a1a" >100</text>
<path d="M320.1 288.7H324.3" stroke="#111" stroke-width="1.2"/>
<text x="316.3" y="291.85" font-size="10.2" text-anchor="end" fill="#1a1a1a" >80</text>
<path d="M320.1 317H324.3" stroke="#111" stroke-width="1.2"/>
<text x="316.3" y="320.15" font-size="10.2" text-anchor="end" fill="#1a1a1a" >60</text>
<path d="M320.1 345.4H324.3" stroke="#111" stroke-width="1.2"/>
<text x="316.3" y="348.55" font-size="10.2" text-anchor="end" fill="#1a1a1a" >40</text>
<path d="M320.1 373.7H324.3" stroke="#111" stroke-width="1.2"/>
<text x="316.3" y="376.85" font-size="10.2" text-anchor="end" fill="#1a1a1a" >20</text>
<path d="M320.1 402H324.3" stroke="#111" stroke-width="1.2"/>
<text x="316.3" y="405.15" font-size="10.2" text-anchor="end" fill="#1a1a1a" >0</text>
<path d="M330.8 408.2V413.2" stroke="#111" stroke-width="1.2"/>
<text x="330.8" y="425.8" font-size="10.8" text-anchor="middle" fill="#1a1a1a" textLength="15.9" lengthAdjust="spacingAndGlyphs">TFC</text>
<path d="M356.1 408.2V413.2" stroke="#111" stroke-width="1.2"/>
<text x="356.1" y="425.8" font-size="10.8" text-anchor="middle" fill="#1a1a1a" textLength="12.1" lengthAdjust="spacingAndGlyphs">VC</text>
<path d="M381.4 408.2V413.2" stroke="#111" stroke-width="1.2"/>
<text x="381.4" y="425.8" font-size="10.8" text-anchor="middle" fill="#1a1a1a" textLength="12.1" lengthAdjust="spacingAndGlyphs">DV</text>
<path d="M406.7 408.2V413.2" stroke="#111" stroke-width="1.2"/>
<text x="406.7" y="425.8" font-size="10.8" text-anchor="middle" fill="#1a1a1a" textLength="19.3" lengthAdjust="spacingAndGlyphs">DV+</text>
<text x="406.7" y="439.2" font-size="10.8" text-anchor="middle" fill="#1a1a1a" textLength="16.8" lengthAdjust="spacingAndGlyphs">BTZ</text>
<path d="M432 408.2V413.2" stroke="#111" stroke-width="1.2"/>
<text x="432" y="425.8" font-size="10.8" text-anchor="middle" fill="#1a1a1a" textLength="16.8" lengthAdjust="spacingAndGlyphs">BTZ</text>
<path d="M457.3 408.2V413.2" stroke="#111" stroke-width="1.2"/>
<text x="457.3" y="425.8" font-size="10.8" text-anchor="middle" fill="#1a1a1a" textLength="10.3" lengthAdjust="spacingAndGlyphs">LV</text>
<path d="M482.6 408.2V413.2" stroke="#111" stroke-width="1.2"/>
<text x="482.6" y="425.8" font-size="10.8" text-anchor="middle" fill="#1a1a1a" textLength="16.5" lengthAdjust="spacingAndGlyphs">LV+</text>
<text x="482.6" y="439.2" font-size="10.8" text-anchor="middle" fill="#1a1a1a" textLength="16.8" lengthAdjust="spacingAndGlyphs">BTZ</text>
<path d="M363.5 296.3V273.2H481.2V296.3" stroke="#333" stroke-width="1.3" fill="none"/>
<path d="M422 266.5L422 269.5M420.7 267.25L423.3 268.75M420.7 268.75L423.3 267.25" stroke="#3d3d3d" stroke-width="0.9" stroke-linecap="round"/>
<path d="M330.7 380.4L335.35 388.5L326.05 388.5Z" fill="#968dc2"/>
<path d="M330.7 384.7L335.35 392.8L326.05 392.8Z" fill="#968dc2"/>
<circle cx="356" cy="376" r="3.45" fill="#4a468a" stroke="#3b3878" stroke-width="0.5"/>
<circle cx="356" cy="380.5" r="3.45" fill="#4a468a" stroke="#3b3878" stroke-width="0.5"/>
<circle cx="356" cy="385" r="3.45" fill="#4a468a" stroke="#3b3878" stroke-width="0.5"/>
<circle cx="356" cy="389" r="3.45" fill="#4a468a" stroke="#3b3878" stroke-width="0.5"/>
<circle cx="356" cy="391.7" r="3.45" fill="#4a468a" stroke="#3b3878" stroke-width="0.5"/>
<rect x="377.8" y="371.6" width="7.2" height="13.5" fill="#69a4d7"/>
<rect x="377.8" y="386.6" width="7.2" height="12.2" fill="#69a4d7"/>
<path d="M402.45 359.3L411.75 359.3L407.1 367.4Z" fill="#e0962f"/>
<path d="M402.45 361.5L411.75 361.5L407.1 369.6Z" fill="#e0962f"/>
<path d="M402.45 364.5L411.75 364.5L407.1 372.6Z" fill="#e0962f"/>
<path d="M402.45 368.1L411.75 368.1L407.1 376.2Z" fill="#e0962f"/>
<path d="M402.45 382.3L411.75 382.3L407.1 390.4Z" fill="#e0962f"/>
<path d="M432 363.3L436 367.3L432 371.3L428 367.3Z" fill="#98b540"/>
<path d="M432 367L436 371L432 375L428 371Z" fill="#98b540"/>
<path d="M432 370.5L436 374.5L432 378.5L428 374.5Z" fill="#98b540"/>
<path d="M432 374.2L436 378.2L432 382.2L428 378.2Z" fill="#98b540"/>
<rect x="454" y="357.2" width="7.2" height="7.2" fill="#6f3c85"/>
<rect x="454" y="366.9" width="7.2" height="8.7" fill="#6f3c85"/>
<rect x="454" y="376.9" width="7.2" height="10.9" fill="#6f3c85"/>
<circle cx="483.1" cy="346.3" r="3.45" fill="#c73b30" stroke="#b53227" stroke-width="0.5"/>
<circle cx="483.1" cy="357.5" r="3.45" fill="#c73b30" stroke="#b53227" stroke-width="0.5"/>
<circle cx="483.1" cy="359.5" r="3.45" fill="#c73b30" stroke="#b53227" stroke-width="0.5"/>
<circle cx="483.1" cy="378.1" r="3.45" fill="#c73b30" stroke="#b53227" stroke-width="0.5"/>
<path d="M338.5 385.8V389.8M335.6 385.8H341.4M335.6 389.8H341.4" stroke="#222" stroke-width="1.2" fill="none"/>
<circle cx="338.5" cy="387.8" r="1.85" fill="#d8d8d8" stroke="#968dc2" stroke-width="1.2"/>
<path d="M338.5 386.5V389.1" stroke="#333" stroke-width="1"/>
<path d="M363.6 380.9V388.5M360.7 380.9H366.5M360.7 388.5H366.5" stroke="#222" stroke-width="1.2" fill="none"/>
<circle cx="363.6" cy="384.8" r="1.85" fill="#d8d8d8" stroke="#4a468a" stroke-width="1.2"/>
<path d="M363.6 383.5V386.1" stroke="#333" stroke-width="1"/>
<path d="M389.1 383.6V392.6M386.2 383.6H392M386.2 392.6H392" stroke="#222" stroke-width="1.2" fill="none"/>
<circle cx="389.1" cy="387.9" r="1.85" fill="#d8d8d8" stroke="#69a4d7" stroke-width="1.2"/>
<path d="M389.1 386.6V389.2" stroke="#333" stroke-width="1"/>
<path d="M414.9 364.1V374.5M412 364.1H417.8M412 374.5H417.8" stroke="#222" stroke-width="1.2" fill="none"/>
<circle cx="414.9" cy="369.4" r="1.85" fill="#d8d8d8" stroke="#e0962f" stroke-width="1.2"/>
<path d="M414.9 368.1V370.7" stroke="#333" stroke-width="1"/>
<path d="M439.8 368V374.2M436.9 368H442.7M436.9 374.2H442.7" stroke="#222" stroke-width="1.2" fill="none"/>
<circle cx="439.8" cy="371.1" r="1.85" fill="#d8d8d8" stroke="#98b540" stroke-width="1.2"/>
<path d="M439.8 369.8V372.4" stroke="#333" stroke-width="1"/>
<path d="M465.4 369.8V379.6M462.5 369.8H468.3M462.5 379.6H468.3" stroke="#222" stroke-width="1.2" fill="none"/>
<circle cx="465.4" cy="374.6" r="1.85" fill="#d8d8d8" stroke="#6f3c85" stroke-width="1.2"/>
<path d="M465.4 373.3V375.9" stroke="#333" stroke-width="1"/>
<path d="M491 353.4V365.4M488.1 353.4H493.9M488.1 365.4H493.9" stroke="#222" stroke-width="1.2" fill="none"/>
<circle cx="491" cy="359.4" r="1.85" fill="#d8d8d8" stroke="#c73b30" stroke-width="1.2"/>
<path d="M491 358.1V360.7" stroke="#333" stroke-width="1"/>
<rect x="324.3" y="246.6" width="181.7" height="161.6" fill="none" stroke="#0d0d0d" stroke-width="1.4"/>
<text transform="translate(276 327.25) rotate(-90)" x="0" y="0" font-size="12.4" text-anchor="middle" fill="#1a1a1a" textLength="161.5" lengthAdjust="spacingAndGlyphs">CD 45+ CD11b+ Ly6G+ PMNC-</text>
<text transform="translate(290 327.1) rotate(-90)" x="0" y="0" font-size="12.4" text-anchor="middle" fill="#1a1a1a" textLength="117.6" lengthAdjust="spacingAndGlyphs">MDSC % of leukocytes</text>
<text x="266.4" y="242.4" font-size="13.8" text-anchor="start" fill="#1a1a1a" textLength="5.3" lengthAdjust="spacingAndGlyphs">F</text>
<path d="M320.1 474.4H324.3" stroke="#111" stroke-width="1.2"/>
<text x="316.3" y="477.55" font-size="10.2" text-anchor="end" fill="#1a1a1a" >25</text>
<path d="M320.1 503.75H324.3" stroke="#111" stroke-width="1.2"/>
<text x="316.3" y="506.9" font-size="10.2" text-anchor="end" fill="#1a1a1a" >20</text>
<path d="M320.1 533.1H324.3" stroke="#111" stroke-width="1.2"/>
<text x="316.3" y="536.25" font-size="10.2" text-anchor="end" fill="#1a1a1a" >15</text>
<path d="M320.1 562.45H324.3" stroke="#111" stroke-width="1.2"/>
<text x="316.3" y="565.6" font-size="10.2" text-anchor="end" fill="#1a1a1a" >10</text>
<path d="M320.1 591.8H324.3" stroke="#111" stroke-width="1.2"/>
<text x="316.3" y="594.95" font-size="10.2" text-anchor="end" fill="#1a1a1a" >5</text>
<path d="M320.1 621.15H324.3" stroke="#111" stroke-width="1.2"/>
<text x="316.3" y="624.3" font-size="10.2" text-anchor="end" fill="#1a1a1a" >0</text>
<path d="M331.2 627.2V632.2" stroke="#111" stroke-width="1.2"/>
<text x="331.2" y="644.8" font-size="10.8" text-anchor="middle" fill="#1a1a1a" textLength="15.9" lengthAdjust="spacingAndGlyphs">TFC</text>
<path d="M357.7 627.2V632.2" stroke="#111" stroke-width="1.2"/>
<text x="357.7" y="644.8" font-size="10.8" text-anchor="middle" fill="#1a1a1a" textLength="12.1" lengthAdjust="spacingAndGlyphs">VC</text>
<path d="M384.2 627.2V632.2" stroke="#111" stroke-width="1.2"/>
<text x="384.2" y="644.8" font-size="10.8" text-anchor="middle" fill="#1a1a1a" textLength="12.1" lengthAdjust="spacingAndGlyphs">DV</text>
<path d="M410.7 627.2V632.2" stroke="#111" stroke-width="1.2"/>
<text x="410.7" y="644.8" font-size="10.8" text-anchor="middle" fill="#1a1a1a" textLength="19.3" lengthAdjust="spacingAndGlyphs">DV+</text>
<text x="410.7" y="658.2" font-size="10.8" text-anchor="middle" fill="#1a1a1a" textLength="16.8" lengthAdjust="spacingAndGlyphs">BTZ</text>
<path d="M437.2 627.2V632.2" stroke="#111" stroke-width="1.2"/>
<text x="437.2" y="644.8" font-size="10.8" text-anchor="middle" fill="#1a1a1a" textLength="16.8" lengthAdjust="spacingAndGlyphs">BTZ</text>
<path d="M463.7 627.2V632.2" stroke="#111" stroke-width="1.2"/>
<text x="463.7" y="644.8" font-size="10.8" text-anchor="middle" fill="#1a1a1a" textLength="10.3" lengthAdjust="spacingAndGlyphs">LV</text>
<path d="M490.2 627.2V632.2" stroke="#111" stroke-width="1.2"/>
<text x="490.2" y="644.8" font-size="10.8" text-anchor="middle" fill="#1a1a1a" textLength="16.5" lengthAdjust="spacingAndGlyphs">LV+</text>
<text x="490.2" y="658.2" font-size="10.8" text-anchor="middle" fill="#1a1a1a" textLength="16.8" lengthAdjust="spacingAndGlyphs">BTZ</text>
<path d="M338.7 499.7V476.8H365.4V499.7" stroke="#333" stroke-width="1.3" fill="none"/>
<path d="M351.9 470.1L351.9 473.1M350.6 470.85L353.2 472.35M350.6 472.35L353.2 470.85" stroke="#3d3d3d" stroke-width="0.9" stroke-linecap="round"/>
<path d="M369.3 499.8V476.8H500.8V499.8" stroke="#333" stroke-width="1.3" fill="none"/>
<path d="M434.9 470.1L434.9 473.1M433.6 470.85L436.2 472.35M433.6 472.35L436.2 470.85" stroke="#3d3d3d" stroke-width="0.9" stroke-linecap="round"/>
<path d="M330.5 525.4L335.15 533.5L325.85 533.5Z" fill="#968dc2"/>
<path d="M330.5 536.8L335.15 544.9L325.85 544.9Z" fill="#968dc2"/>
<path d="M330.5 548.9L335.15 557L325.85 557Z" fill="#968dc2"/>
<path d="M330.5 568.5L335.15 576.6L325.85 576.6Z" fill="#968dc2"/>
<circle cx="357.2" cy="559.3" r="3.45" fill="#4a468a" stroke="#3b3878" stroke-width="0.5"/>
<circle cx="357.2" cy="575.5" r="3.45" fill="#4a468a" stroke="#3b3878" stroke-width="0.5"/>
<circle cx="357.2" cy="578.5" r="3.45" fill="#4a468a" stroke="#3b3878" stroke-width="0.5"/>
<circle cx="357.2" cy="587.7" r="3.45" fill="#4a468a" stroke="#3b3878" stroke-width="0.5"/>
<circle cx="357.2" cy="596.5" r="3.45" fill="#4a468a" stroke="#3b3878" stroke-width="0.5"/>
<circle cx="357.2" cy="602" r="3.45" fill="#4a468a" stroke="#3b3878" stroke-width="0.5"/>
<rect x="380.1" y="589.1" width="7.2" height="20.5" fill="#69a4d7"/>
<path d="M405.85 517.8L415.15 517.8L410.5 525.9Z" fill="#e0962f"/>
<path d="M405.85 542.3L415.15 542.3L410.5 550.4Z" fill="#e0962f"/>
<path d="M405.85 552L415.15 552L410.5 560.1Z" fill="#e0962f"/>
<path d="M405.85 560.5L415.15 560.5L410.5 568.6Z" fill="#e0962f"/>
<path d="M405.85 565.5L415.15 565.5L410.5 573.6Z" fill="#e0962f"/>
<path d="M437 553.8L441 557.8L437 561.8L433 557.8Z" fill="#98b540"/>
<path d="M437 559.2L441 563.2L437 567.2L433 563.2Z" fill="#98b540"/>
<path d="M437 563.9L441 567.9L437 571.9L433 567.9Z" fill="#98b540"/>
<path d="M437 576L441 580L437 584L433 580Z" fill="#98b540"/>
<rect x="460.2" y="500.3" width="7.2" height="7.2" fill="#6f3c85"/>
<rect x="460.2" y="523.9" width="7.2" height="7.2" fill="#6f3c85"/>
<rect x="460.2" y="536.1" width="7.2" height="13.4" fill="#6f3c85"/>
<circle cx="490.4" cy="541.8" r="3.45" fill="#c73b30" stroke="#b53227" stroke-width="0.5"/>
<circle cx="490.4" cy="545" r="3.45" fill="#c73b30" stroke="#b53227" stroke-width="0.5"/>
<circle cx="490.4" cy="549.8" r="3.45" fill="#c73b30" stroke="#b53227" stroke-width="0.5"/>
<circle cx="490.4" cy="566" r="3.45" fill="#c73b30" stroke="#b53227" stroke-width="0.5"/>
<circle cx="490.4" cy="572.4" r="3.45" fill="#c73b30" stroke="#b53227" stroke-width="0.5"/>
<path d="M338.8 538.4V560.1M335.9 538.4H341.7M335.9 560.1H341.7" stroke="#222" stroke-width="1.2" fill="none"/>
<circle cx="338.8" cy="549.3" r="1.85" fill="#d8d8d8" stroke="#968dc2" stroke-width="1.2"/>
<path d="M338.8 548V550.6" stroke="#333" stroke-width="1"/>
<path d="M365.2 574.4V592.3M362.3 574.4H368.1M362.3 592.3H368.1" stroke="#222" stroke-width="1.2" fill="none"/>
<circle cx="365.2" cy="583.2" r="1.85" fill="#d8d8d8" stroke="#4a468a" stroke-width="1.2"/>
<path d="M365.2 581.9V584.5" stroke="#333" stroke-width="1"/>
<path d="M391.7 597.8V604.1M388.8 597.8H394.6M388.8 604.1H394.6" stroke="#222" stroke-width="1.2" fill="none"/>
<circle cx="391.7" cy="601" r="1.85" fill="#d8d8d8" stroke="#69a4d7" stroke-width="1.2"/>
<path d="M391.7 599.7V602.3" stroke="#333" stroke-width="1"/>
<path d="M418.6 542V563.4M415.7 542H421.5M415.7 563.4H421.5" stroke="#222" stroke-width="1.2" fill="none"/>
<circle cx="418.6" cy="552.8" r="1.85" fill="#d8d8d8" stroke="#e0962f" stroke-width="1.2"/>
<path d="M418.6 551.5V554.1" stroke="#333" stroke-width="1"/>
<path d="M444.8 563.2V571.2M441.9 563.2H447.7M441.9 571.2H447.7" stroke="#222" stroke-width="1.2" fill="none"/>
<circle cx="444.8" cy="567.2" r="1.85" fill="#d8d8d8" stroke="#98b540" stroke-width="1.2"/>
<path d="M444.8 565.9V568.5" stroke="#333" stroke-width="1"/>
<path d="M471.9 522.5V541M469 522.5H474.8M469 541H474.8" stroke="#222" stroke-width="1.2" fill="none"/>
<circle cx="471.9" cy="531.4" r="1.85" fill="#d8d8d8" stroke="#6f3c85" stroke-width="1.2"/>
<path d="M471.9 530.1V532.7" stroke="#333" stroke-width="1"/>
<path d="M498.7 549V563.2M495.8 549H501.6M495.8 563.2H501.6" stroke="#222" stroke-width="1.2" fill="none"/>
<circle cx="498.7" cy="556.3" r="1.85" fill="#d8d8d8" stroke="#c73b30" stroke-width="1.2"/>
<path d="M498.7 555V557.6" stroke="#333" stroke-width="1"/>
<rect x="324.3" y="464.6" width="186.9" height="162.6" fill="none" stroke="#0d0d0d" stroke-width="1.4"/>
<text transform="translate(282 543.7) rotate(-90)" x="0" y="0" font-size="12.4" text-anchor="middle" fill="#1a1a1a" textLength="178.4" lengthAdjust="spacingAndGlyphs">CD 45+ CD11b+ Ly6C+ Mo-MDSC</text>
<text transform="translate(296 544.05) rotate(-90)" x="0" y="0" font-size="12.4" text-anchor="middle" fill="#1a1a1a" textLength="82.9" lengthAdjust="spacingAndGlyphs">% of leukocytes</text>
<text x="265.6" y="461.9" font-size="13.8" text-anchor="start" fill="#1a1a1a" textLength="8.5" lengthAdjust="spacingAndGlyphs">G</text>
<path d="M320.1 686.4H324.3" stroke="#111" stroke-width="1.2"/>
<text x="316.3" y="689.55" font-size="10.2" text-anchor="end" fill="#1a1a1a" >60</text>
<path d="M320.1 711.75H324.3" stroke="#111" stroke-width="1.2"/>
<text x="316.3" y="714.9" font-size="10.2" text-anchor="end" fill="#1a1a1a" >50</text>
<path d="M320.1 737.1H324.3" stroke="#111" stroke-width="1.2"/>
<text x="316.3" y="740.25" font-size="10.2" text-anchor="end" fill="#1a1a1a" >40</text>
<path d="M320.1 762.45H324.3" stroke="#111" stroke-width="1.2"/>
<text x="316.3" y="765.6" font-size="10.2" text-anchor="end" fill="#1a1a1a" >30</text>
<path d="M320.1 787.8H324.3" stroke="#111" stroke-width="1.2"/>
<text x="316.3" y="790.95" font-size="10.2" text-anchor="end" fill="#1a1a1a" >20</text>
<path d="M320.1 813.15H324.3" stroke="#111" stroke-width="1.2"/>
<text x="316.3" y="816.3" font-size="10.2" text-anchor="end" fill="#1a1a1a" >10</text>
<path d="M320.1 838.5H324.3" stroke="#111" stroke-width="1.2"/>
<text x="316.3" y="841.65" font-size="10.2" text-anchor="end" fill="#1a1a1a" >0</text>
<path d="M331.2 844.5V849.5" stroke="#111" stroke-width="1.2"/>
<text x="331.2" y="862.1" font-size="10.8" text-anchor="middle" fill="#1a1a1a" textLength="12.1" lengthAdjust="spacingAndGlyphs">VC</text>
<path d="M363.2 844.5V849.5" stroke="#111" stroke-width="1.2"/>
<text x="363.2" y="862.1" font-size="10.8" text-anchor="middle" fill="#1a1a1a" textLength="12.1" lengthAdjust="spacingAndGlyphs">DV</text>
<path d="M395.2 844.5V849.5" stroke="#111" stroke-width="1.2"/>
<text x="395.2" y="862.1" font-size="10.8" text-anchor="middle" fill="#1a1a1a" textLength="19.3" lengthAdjust="spacingAndGlyphs">DV+</text>
<text x="395.2" y="875.5" font-size="10.8" text-anchor="middle" fill="#1a1a1a" textLength="16.8" lengthAdjust="spacingAndGlyphs">BTZ</text>
<path d="M427.2 844.5V849.5" stroke="#111" stroke-width="1.2"/>
<text x="427.2" y="862.1" font-size="10.8" text-anchor="middle" fill="#1a1a1a" textLength="16.8" lengthAdjust="spacingAndGlyphs">BTZ</text>
<path d="M459.2 844.5V849.5" stroke="#111" stroke-width="1.2"/>
<text x="459.2" y="862.1" font-size="10.8" text-anchor="middle" fill="#1a1a1a" textLength="10.3" lengthAdjust="spacingAndGlyphs">LV</text>
<path d="M491.2 844.5V849.5" stroke="#111" stroke-width="1.2"/>
<text x="491.2" y="862.1" font-size="10.8" text-anchor="middle" fill="#1a1a1a" textLength="16.5" lengthAdjust="spacingAndGlyphs">LV+</text>
<text x="491.2" y="875.5" font-size="10.8" text-anchor="middle" fill="#1a1a1a" textLength="16.8" lengthAdjust="spacingAndGlyphs">BTZ</text>
<path d="M339.1 719.1V701.3H497.4V726.6" stroke="#333" stroke-width="1.3" fill="none"/>
<path d="M414.05 694.6L414.05 697.6M412.75 695.35L415.35 696.85M412.75 696.85L415.35 695.35" stroke="#3d3d3d" stroke-width="0.9" stroke-linecap="round"/>
<path d="M418.5 694.6L418.5 697.6M417.2 695.35L419.8 696.85M417.2 696.85L419.8 695.35" stroke="#3d3d3d" stroke-width="0.9" stroke-linecap="round"/>
<path d="M422.95 694.6L422.95 697.6M421.65 695.35L424.25 696.85M421.65 696.85L424.25 695.35" stroke="#3d3d3d" stroke-width="0.9" stroke-linecap="round"/>
<circle cx="331.2" cy="724.3" r="3.45" fill="#4a468a" stroke="#3b3878" stroke-width="0.5"/>
<circle cx="331.2" cy="738.5" r="3.45" fill="#4a468a" stroke="#3b3878" stroke-width="0.5"/>
<circle cx="331.2" cy="743" r="3.45" fill="#4a468a" stroke="#3b3878" stroke-width="0.5"/>
<circle cx="331.2" cy="748" r="3.45" fill="#4a468a" stroke="#3b3878" stroke-width="0.5"/>
<circle cx="331.2" cy="773.5" r="3.45" fill="#4a468a" stroke="#3b3878" stroke-width="0.5"/>
<rect x="360" y="708.4" width="7.2" height="7.2" fill="#69a4d7"/>
<rect x="360" y="727.4" width="7.2" height="13.2" fill="#69a4d7"/>
<rect x="360" y="743.7" width="7.2" height="7.2" fill="#69a4d7"/>
<rect x="360" y="753.1" width="7.2" height="7.2" fill="#69a4d7"/>
<rect x="360" y="778.4" width="7.2" height="7.2" fill="#69a4d7"/>
<path d="M390.55 746.3L399.85 746.3L395.2 754.4Z" fill="#e0962f"/>
<path d="M390.55 760.2L399.85 760.2L395.2 768.3Z" fill="#e0962f"/>
<path d="M390.55 762.5L399.85 762.5L395.2 770.6Z" fill="#e0962f"/>
<path d="M390.55 774L399.85 774L395.2 782.1Z" fill="#e0962f"/>
<path d="M390.55 787.3L399.85 787.3L395.2 795.4Z" fill="#e0962f"/>
<path d="M390.55 796.3L399.85 796.3L395.2 804.4Z" fill="#e0962f"/>
<path d="M427.3 737.7L431.3 741.7L427.3 745.7L423.3 741.7Z" fill="#98b540"/>
<path d="M427.3 761.4L431.3 765.4L427.3 769.4L423.3 765.4Z" fill="#98b540"/>
<path d="M427.3 764.3L431.3 768.3L427.3 772.3L423.3 768.3Z" fill="#98b540"/>
<path d="M427.3 790.4L431.3 794.4L427.3 798.4L423.3 794.4Z" fill="#98b540"/>
<path d="M427.3 805.8L431.3 809.8L427.3 813.8L423.3 809.8Z" fill="#98b540"/>
<path d="M427.3 830.8L431.3 834.8L427.3 838.8L423.3 834.8Z" fill="#98b540"/>
<rect x="455.8" y="736.5" width="7.2" height="7.2" fill="#6f3c85"/>
<rect x="455.8" y="759.5" width="7.2" height="7.2" fill="#6f3c85"/>
<rect x="455.8" y="768.7" width="7.2" height="7.2" fill="#6f3c85"/>
<rect x="455.8" y="799.4" width="7.2" height="7.2" fill="#6f3c85"/>
<rect x="455.8" y="808.6" width="7.2" height="7.2" fill="#6f3c85"/>
<rect x="455.8" y="819.8" width="7.2" height="7.2" fill="#6f3c85"/>
<circle cx="491.2" cy="774.8" r="3.45" fill="#c73b30" stroke="#b53227" stroke-width="0.5"/>
<circle cx="491.2" cy="792.4" r="3.45" fill="#c73b30" stroke="#b53227" stroke-width="0.5"/>
<circle cx="491.2" cy="796.5" r="3.45" fill="#c73b30" stroke="#b53227" stroke-width="0.5"/>
<circle cx="491.2" cy="811.5" r="3.45" fill="#c73b30" stroke="#b53227" stroke-width="0.5"/>
<circle cx="491.2" cy="814.5" r="3.45" fill="#c73b30" stroke="#b53227" stroke-width="0.5"/>
<circle cx="491.2" cy="822.8" r="3.45" fill="#c73b30" stroke="#b53227" stroke-width="0.5"/>
<path d="M340.6 731.5V752.3M337.7 731.5H343.5M337.7 752.3H343.5" stroke="#222" stroke-width="1.2" fill="none"/>
<circle cx="340.6" cy="741.8" r="1.85" fill="#d8d8d8" stroke="#4a468a" stroke-width="1.2"/>
<path d="M340.6 740.5V743.1" stroke="#333" stroke-width="1"/>
<path d="M372.5 730.5V758.5M369.6 730.5H375.4M369.6 758.5H375.4" stroke="#222" stroke-width="1.2" fill="none"/>
<circle cx="372.5" cy="744.3" r="1.85" fill="#d8d8d8" stroke="#69a4d7" stroke-width="1.2"/>
<path d="M372.5 743V745.6" stroke="#333" stroke-width="1"/>
<path d="M404.5 762.7V784.2M401.6 762.7H407.4M401.6 784.2H407.4" stroke="#222" stroke-width="1.2" fill="none"/>
<circle cx="404.5" cy="773.7" r="1.85" fill="#d8d8d8" stroke="#e0962f" stroke-width="1.2"/>
<path d="M404.5 772.4V775" stroke="#333" stroke-width="1"/>
<path d="M436.5 765.6V805.4M433.6 765.6H439.4M433.6 805.4H439.4" stroke="#222" stroke-width="1.2" fill="none"/>
<circle cx="436.5" cy="785.6" r="1.85" fill="#d8d8d8" stroke="#98b540" stroke-width="1.2"/>
<path d="M436.5 784.3V786.9" stroke="#333" stroke-width="1"/>
<path d="M468.1 766.7V804.6M465.2 766.7H471M465.2 804.6H471" stroke="#222" stroke-width="1.2" fill="none"/>
<circle cx="468.1" cy="785.6" r="1.85" fill="#d8d8d8" stroke="#6f3c85" stroke-width="1.2"/>
<path d="M468.1 784.3V786.9" stroke="#333" stroke-width="1"/>
<path d="M500.2 791.3V812.3M497.3 791.3H503.1M497.3 812.3H503.1" stroke="#222" stroke-width="1.2" fill="none"/>
<circle cx="500.2" cy="801.9" r="1.85" fill="#d8d8d8" stroke="#c73b30" stroke-width="1.2"/>
<path d="M500.2 800.6V803.2" stroke="#333" stroke-width="1"/>
<rect x="324.3" y="679.6" width="186.7" height="164.9" fill="none" stroke="#0d0d0d" stroke-width="1.4"/>
<text transform="translate(296 762.3) rotate(-90)" x="0" y="0" font-size="12.4" text-anchor="middle" fill="#1a1a1a" textLength="198.8" lengthAdjust="spacingAndGlyphs">Myeloma tumor burden (M-spike g/L)</text>
<text x="266.1" y="681.6" font-size="13.8" text-anchor="start" fill="#1a1a1a" textLength="8.0" lengthAdjust="spacingAndGlyphs">H</text>
<text x="153.2" y="19.7" font-size="10.3" text-anchor="middle" fill="#1a1a1a" textLength="29.2" lengthAdjust="spacingAndGlyphs">Spleen</text>
<rect x="0" y="1" width="520" height="1" fill="#9a9a9a"/>
<rect x="518" y="0" width="1" height="887" fill="#9a9a9a"/>
<rect x="0" y="0" width="520" height="1" fill="#000"/>
<rect x="519" y="0" width="1" height="887" fill="#000"/>
<rect x="0" y="0" width="1" height="887" fill="#676767"/>
<rect x="1" y="0" width="1" height="886" fill="#464646"/>
<rect x="0" y="886" width="520" height="1" fill="#676767"/>
<rect x="1" y="885" width="518" height="1" fill="#464646"/>
</svg>
</body></html>
